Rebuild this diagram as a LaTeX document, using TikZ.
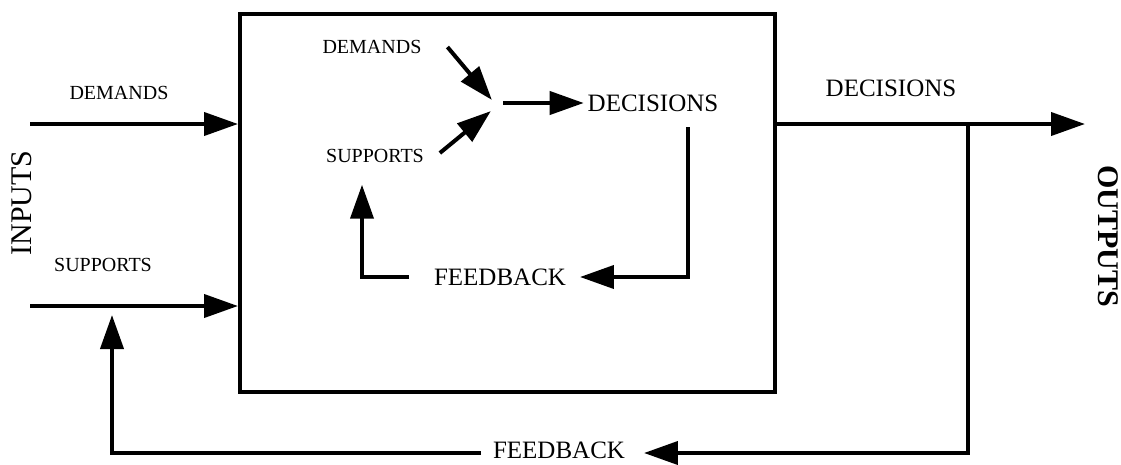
\documentclass[tikz,border=0pt]{standalone}
\usepackage{fontspec}
\setmainfont{Liberation Serif}
\usetikzlibrary{arrows.meta}
\begin{document}
\begin{tikzpicture}[x=1pt, y=-1pt, line width=4pt,
        arr/.style={-{Triangle[length=34pt,width=23pt]}},
        small node/.style={inner sep=2pt, font=\fontsize{20}{24}\selectfont},
        big node/.style={inner sep=2pt, font=\fontsize{25}{30}\selectfont},
        side node/.style={inner sep=2pt, font=\fontsize{30}{36}\selectfont}]
    \useasboundingbox (0,0) rectangle (1121,464);
    \node[draw, minimum width=535pt, minimum height=378pt] (sys) at (507.5,203) {};
    \node[small node] (dem) at (119,93) {DEMANDS};
    \node[small node] (sup) at (103,265) {SUPPORTS};
    \node[side node, rotate=90] (inp) at (22,203) {INPUTS};
    \node[big node] (out) at (891,88) {DECISIONS};
    \node[side node, rotate=-90, font=\fontsize{30}{36}\selectfont\bfseries] (outp) at (1108,236) {OUTPUTS};
    \node[big node] (fbo) at (559,450) {FEEDBACK};
    \node[small node] (idem) at (372,47) {DEMANDS};
    \node[small node] (isup) at (375,156) {SUPPORTS};
    \node[big node] (idec) at (653,103) {DECISIONS};
    \node[big node] (ifb) at (500,277) {FEEDBACK};
    \coordinate (d0) at (30,124);
    \coordinate (s0) at (30,306);
    \coordinate (o1) at (1085,124);
    \coordinate (br) at (968,124);
    \coordinate (fbup) at (112,315);
    \coordinate (mix) at (497,106);
    \draw[arr] (d0) -- (d0 -| sys.west);
    \draw[arr] (s0) -- (s0 -| sys.west);
    \draw[arr] (sys.east |- o1) -- (o1);
    \draw[arr] (br) |- ([xshift=15pt,yshift=-3pt]fbo.east);
    \draw[arr] ([xshift=-8pt,yshift=-3pt]fbo.west) -| (fbup);
    \draw[arr, shorten >=8pt] ([xshift=22pt]idem.east) -- (mix);
    \draw[arr, shorten >=8pt] ([xshift=12pt,yshift=3pt]isup.east) -- (mix);
    \draw[arr] ([xshift=6pt,yshift=3pt]mix) -- (idec.west);
    \draw[arr] ([xshift=-34pt,yshift=-12pt]idec.south east) |- ([xshift=10pt]ifb.east);
    \draw[arr] ([xshift=-21pt]ifb.west) -| ([shift={(-13pt,-18pt)}]isup.south);
\end{tikzpicture}
\end{document}
